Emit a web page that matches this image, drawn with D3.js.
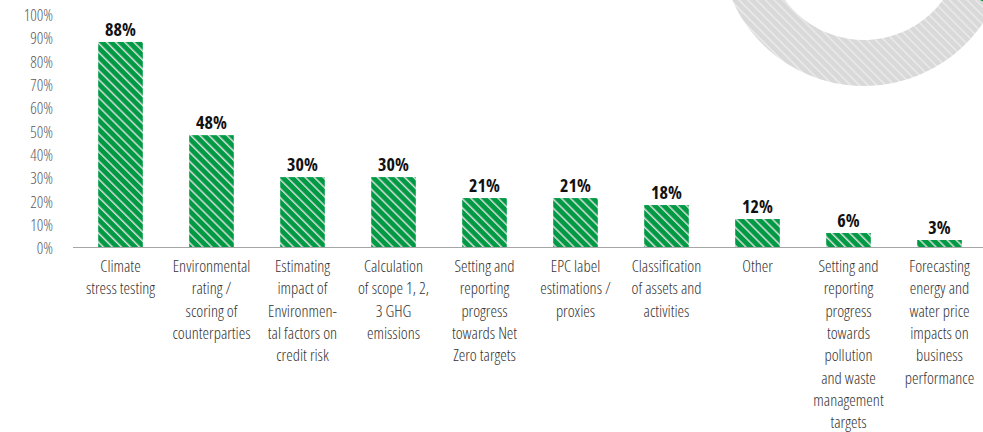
<!DOCTYPE html>
<html>
<head>
<meta charset="utf-8">
<script src="https://cdn.jsdelivr.net/npm/d3@7"></script>
<style>
  html, body { margin: 0; padding: 0; background: #ffffff; }
  svg { display: block; }
  .cond { font-family: "Open Sans", "Liberation Sans Narrow", "DejaVu Sans Condensed", sans-serif; font-stretch: 75%; }
</style>
</head>
<body>
<script>
// Share of respondents using each environmental data use case
const categories = [
  ["Climate", "stress testing"],
  ["Environmental", "rating /", "scoring of", "counterparties"],
  ["Estimating", "impact of", "Environmen-", "tal factors on", "credit risk"],
  ["Calculation", "of scope 1, 2,", "3 GHG", "emissions"],
  ["Setting and", "reporting", "progress", "towards Net", "Zero targets"],
  ["EPC label", "estimations /", "proxies"],
  ["Classification", "of assets and", "activities"],
  ["Other"],
  ["Setting and", "reporting", "progress", "towards", "pollution", "and waste", "management", "targets"],
  ["Forecasting", "energy and", "water price", "impacts on", "business", "performance"]
];
const values = [88, 48, 30, 30, 21, 21, 18, 12, 6, 3];
const yTicks = [0, 10, 20, 30, 40, 50, 60, 70, 80, 90, 100];

// Decorative ring in the corner (green share vs. grey remainder)
const ringValues = [32.4, 67.6];

const W = 983, H = 432;
const svg = d3.select("body").append("svg").attr("width", W).attr("height", H);
const defs = svg.append("defs");

function stripes(id, bg, fg, gap, lw) {
  const p = defs.append("pattern")
    .attr("id", id)
    .attr("patternUnits", "userSpaceOnUse")
    .attr("width", gap).attr("height", gap)
    .attr("patternTransform", "rotate(-45)");
  p.append("rect").attr("width", gap).attr("height", gap).attr("fill", bg);
  p.append("rect").attr("x", 0).attr("y", 0).attr("width", lw).attr("height", gap).attr("fill", fg);
}
stripes("barHatch", "#009a44", "#d6ddd8", 6.4, 1.5);
stripes("ringGrey", "#d9d9d9", "#e9e9e9", 6.2, 1.6);
stripes("ringGreen", "#009a44", "#d6ddd8", 6.4, 1.5);

// Ring
const pie = d3.pie().sort(null).value(d => d);
const arc = d3.arc().innerRadius(98).outerRadius(144);
const ringFills = ["url(#ringGreen)", "url(#ringGrey)"];
svg.append("g")
  .attr("transform", "translate(864,-58)")
  .selectAll("path")
  .data(pie(ringValues))
  .join("path")
  .attr("d", arc)
  .attr("fill", (d, i) => ringFills[i]);

// Scales
const x = d3.scaleBand()
  .domain(d3.range(values.length))
  .range([75, 985])
  .paddingInner(0.51)
  .paddingOuter(0.255);
const y = d3.scaleLinear().domain([0, 100]).range([247, 14]);

// Y axis labels
const yAxis = d3.axisLeft(y)
  .tickValues(yTicks)
  .tickFormat(d => d + "%")
  .tickSize(0)
  .tickPadding(0);
const yg = svg.append("g").attr("transform", "translate(53,1.5)").call(yAxis);
yg.select(".domain").remove();
yg.selectAll("text")
  .attr("class", "cond")
  .attr("font-size", 16)
  .attr("font-weight", 300)
  .attr("fill", "#595959");

// Bars
svg.append("g")
  .selectAll("rect")
  .data(values)
  .join("rect")
  .attr("x", (d, i) => x(i))
  .attr("y", d => y(d))
  .attr("width", x.bandwidth())
  .attr("height", d => y(0) - y(d))
  .attr("fill", "url(#barHatch)");

// Baseline
svg.append("line")
  .attr("x1", 73).attr("x2", W)
  .attr("y1", y(0) + 0.5).attr("y2", y(0) + 0.5)
  .attr("stroke", "#a6a6a6").attr("stroke-width", 1);

// Value labels
svg.append("g")
  .selectAll("text")
  .data(values)
  .join("text")
  .attr("class", "cond")
  .attr("x", (d, i) => x(i) + x.bandwidth() / 2)
  .attr("y", d => y(d) - 6)
  .attr("text-anchor", "middle")
  .attr("font-size", 18)
  .attr("font-weight", 700)
  .attr("fill", "#111111")
  .text(d => d + "%");

// Category labels
const lab = svg.append("g")
  .selectAll("text")
  .data(categories)
  .join("text")
  .attr("class", "cond")
  .attr("x", (d, i) => x(i) + x.bandwidth() / 2)
  .attr("y", 272)
  .attr("text-anchor", "middle")
  .attr("font-size", 16.5)
  .attr("font-weight", 300)
  .attr("fill", "#333333");
lab.selectAll("tspan")
  .data((d, i) => d.map(t => ({ t, cx: x(i) + x.bandwidth() / 2 })))
  .join("tspan")
  .attr("x", d => d.cx)
  .attr("dy", (d, j) => j === 0 ? 0 : 22.3)
  .text(d => d.t);
</script>
</body>
</html>
